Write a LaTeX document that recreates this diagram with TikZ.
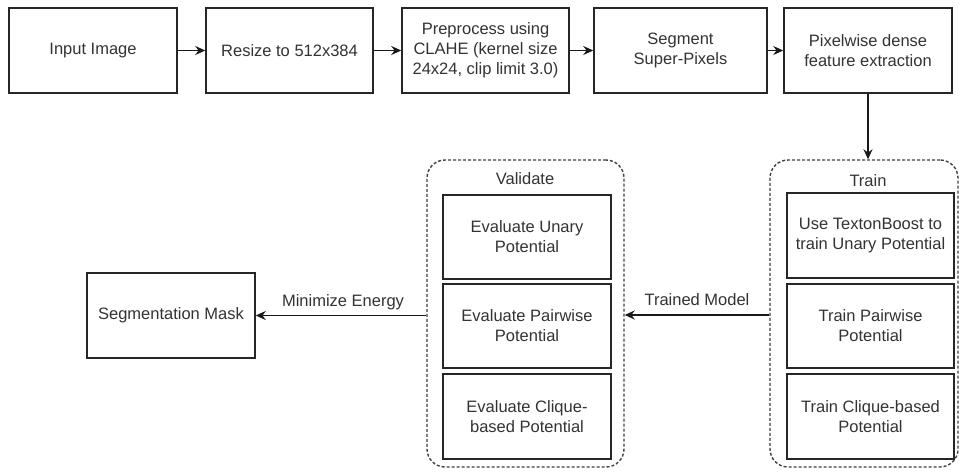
\documentclass[tikz,border=0pt]{standalone}
\usepackage{fontspec}
\setmainfont{Liberation Sans}
\usetikzlibrary{arrows.meta}
\begin{document}
\begin{tikzpicture}[x=1pt,y=-1pt,
  box/.style={draw=black!85, line width=1.5pt, inner sep=0pt, align=center,
    minimum height=85pt, text=black!80, font=\fontsize{16.5}{20}\selectfont},
  grp/.style={draw=black!75, line width=1.4pt, dash pattern=on 3pt off 2pt,
    rounded corners=18pt, inner sep=0pt},
  lbl/.style={text=black!80, font=\fontsize{16.5}{20}\selectfont, inner sep=0pt},
  arr/.style={draw=black!90, line width=1.5pt, -{Stealth[length=10pt,width=9pt]}}]
\useasboundingbox (0,0) rectangle (959,474);
\fill[white] (0,0) rectangle (959,474);
% top row
\node[box, minimum width=168pt] (in) at (93,50.5) {Input Image};
\node[box, minimum width=167pt] (rs) at (289.5,50.5) {Resize to 512x384};
\node[box, minimum width=167pt] (pp) at (485.5,50.5) {Preprocess using\\CLAHE (kernel size\\24x24, clip limit 3.0)};
\node[box, minimum width=173pt] (sg) at (680.5,50.5) {Segment\\Super-Pixels};
\node[box, minimum width=168pt] (pw) at (868,50.5) {Pixelwise dense\\feature extraction};
% containers
\node[grp, minimum width=197pt, minimum height=307pt] (val) at (525.5,313.5) {};
\node[grp, minimum width=188pt, minimum height=307pt] (trn) at (864,313.5) {};
\node[lbl] (valt) at (525,179) {Validate};
\node[lbl] (trnt) at (868,181) {Train};
% validate boxes
\node[box, minimum width=168pt, minimum height=84pt] (v1) at (527,237) {Evaluate Unary\\Potential};
\node[box, minimum width=168pt, minimum height=84pt] (v2) at (527,326) {Evaluate Pairwise\\Potential};
\node[box, minimum width=168pt, minimum height=85pt] (v3) at (527,416.5) {Evaluate Clique-\\based Potential};
% train boxes
\node[box, minimum width=167pt, minimum height=85pt] (t1) at (870.5,235.5) {Use TextonBoost to\\train Unary Potential};
\node[box, minimum width=167pt, minimum height=84pt] (t2) at (870.5,326) {Train Pairwise\\Potential};
\node[box, minimum width=167pt, minimum height=85pt] (t3) at (870.5,416.5) {Train Clique-based\\Potential};
% output
\node[box, minimum width=168pt, minimum height=85pt] (sm) at (171,315.5) {Segmentation Mask};
% arrows
\draw[arr] (in) -- (rs);
\draw[arr] (rs) -- (pp);
\draw[arr] (pp) -- (sg);
\draw[arr] (sg) -- (pw);
\draw[arr] (pw.south) -- (pw.south |- trn.north);
\draw[arr] (trn.west |- 0,315) -- (val.east |- 0,315);
\draw[arr] (val.west |- 0,315.5) -- (sm.east);
\node[lbl] (tm) at (697,300) {Trained Model};
\node[lbl] (me) at (343,302) {Minimize Energy};
\end{tikzpicture}
\end{document}
